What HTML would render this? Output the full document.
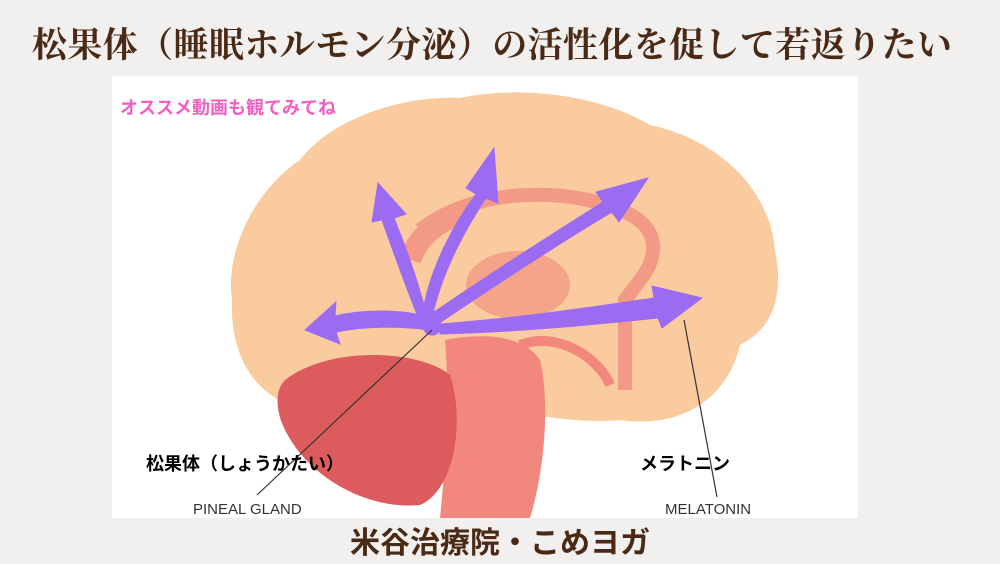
<!DOCTYPE html>
<html><head><meta charset="utf-8"><style>
body{margin:0;width:1000px;height:564px;overflow:hidden;background:#f1f0ef;font-family:"Liberation Sans","Noto Sans CJK JP",sans-serif;position:relative}
.t{position:absolute;left:32px;top:18px;font-family:"Liberation Serif","Noto Serif CJK SC",serif;font-weight:bold;font-size:35px;color:#4b2a15;letter-spacing:0.4px;white-space:nowrap}
.panel{position:absolute;left:112px;top:76px;width:746px;height:442px;background:#fff}
.l{position:absolute;white-space:nowrap}
</style></head><body>
<div class="t">松果体（睡眠ホルモン分泌）の活性化を促して若返りたい</div>
<div class="panel"></div>
<svg style="position:absolute;left:0;top:0" width="1000" height="564">
<path d="M300 160 C330 120 400 95 460 98 C520 85 600 95 650 125 C720 140 770 190 775 250 C785 300 770 330 740 345 C730 390 690 430 620 420 C570 425 520 410 450 405 C400 415 340 420 290 405 C250 390 230 350 232 300 C225 250 255 190 300 160Z" fill="#fbcba0"/>
<path d="M420 230 C470 190 560 185 620 210 C660 225 660 255 640 280 L625 300 L625 390" fill="none" stroke="#f29a86" stroke-width="14"/>
<path d="M410 260 C420 230 450 215 470 212" fill="none" stroke="#f29a86" stroke-width="22"/>
<ellipse cx="518" cy="285" rx="52" ry="34" fill="#f4a488"/>
<path d="M445 340 C470 335 520 330 540 360 C550 400 545 470 530 518 L440 518 C445 470 450 400 445 340Z" fill="#f2877d"/>
<path d="M285 380 C330 345 420 350 450 375 C465 420 455 490 420 505 C370 510 310 480 285 430 C275 410 275 390 285 380Z" fill="#dc5b5c"/>
<path d="M520 345 C560 330 600 360 610 385" fill="none" stroke="#f2877d" stroke-width="10"/>
<g fill="#9b6cf2" stroke="#9b6cf2">
<circle cx="432" cy="326" r="9"/>
<path d="M432 318 C400 308 360 310 335 316 L336 302 L305 330 L340 344 L336 332 C365 326 400 326 432 330Z"/>
<path d="M428 320 C418 280 405 245 394 218 L406 214 L378 183 L372 222 L382 220 C392 248 405 285 420 322Z"/>
<path d="M432 318 C442 270 468 225 486 198 L498 203 L494 148 L466 188 L476 194 C455 222 428 270 422 318Z"/>
<path d="M438 324 C500 282 562 242 612 212 L619 222 L648 178 L596 192 L603 202 C552 234 490 274 428 316Z"/>
<path d="M440 334 C520 332 600 324 658 318 L662 328 L702 298 L652 286 L654 298 C600 306 520 318 440 324Z"/>
</g>
<line x1="432" y1="330" x2="257" y2="495" stroke="#333" stroke-width="1.2"/>
<line x1="684" y1="320" x2="717" y2="497" stroke="#333" stroke-width="1.2"/>
</svg>
<div class="l" style="left:120px;top:94px;font-size:18px;font-weight:bold;color:#f25fc0">オススメ動画も観てみてね</div>
<div class="l" style="left:146px;top:450px;font-size:18px;font-weight:bold;color:#000">松果体（しょうかたい）</div>
<div class="l" style="left:640px;top:450px;font-size:18px;font-weight:bold;color:#000">メラトニン</div>
<div class="l" style="left:193px;top:501px;font-size:15px;color:#333">PINEAL GLAND</div>
<div class="l" style="left:665px;top:501px;font-size:15px;color:#333">MELATONIN</div>
<div class="l" style="left:350px;top:518px;font-size:30px;font-weight:bold;color:#4b2a15">米谷治療院・こめヨガ</div>
</body></html>
